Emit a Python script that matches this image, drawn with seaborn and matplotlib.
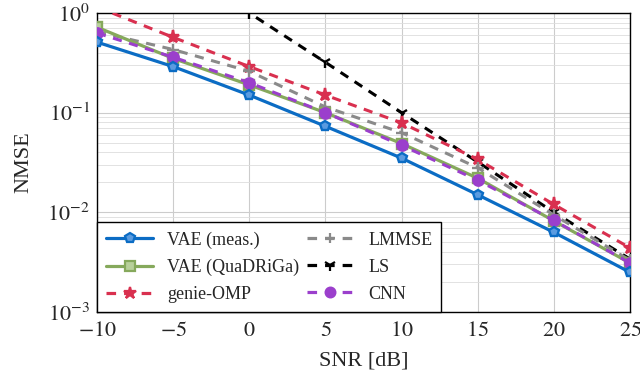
import numpy as np
import pandas as pd
import seaborn as sns
import matplotlib
matplotlib.use("Agg")
import matplotlib.pyplot as plt
from matplotlib.lines import Line2D

snr = [-10, -5, 0, 5, 10, 15, 20, 25]
vae_meas = [0.51, 0.29, 0.15, 0.073, 0.035, 0.015, 0.0063, 0.0025]
vae_quadriga = [0.72, 0.35, 0.19, 0.10, 0.049, 0.022, 0.0082, 0.0031]
genie_omp = [1.15, 0.57, 0.29, 0.15, 0.079, 0.034, 0.012, 0.0044]
lmmse = [0.65, 0.43, 0.26, 0.114, 0.063, 0.028, 0.0094, 0.0033]
ls = [10.0, 3.16, 1.0, 0.32, 0.10, 0.032, 0.010, 0.0034]
cnn = [0.63, 0.36, 0.20, 0.10, 0.047, 0.021, 0.0083, 0.0031]

names = ["VAE (meas.)", "VAE (QuaDRiGa)", "genie-OMP", "LMMSE", "LS", "CNN"]
series = [vae_meas, vae_quadriga, genie_omp, lmmse, ls, cnn]
colors = ["#0b6cc4", "#86a95c", "#d9304f", "#8a8a8a", "#000000", "#9b3fcc"]
markers = ["p", "s", "*", "+", "1", "o"]
facecolors = ["#5a9be0", "#b8d09a", "#d9304f", "#8a8a8a", "#000000", "#9b3fcc"]
styles = ["-", "-", (0, (3, 2.5)), (0, (3, 2.5)), (0, (3, 2.5)), (0, (3, 2.5))]
msizes = [7.5, 7.5, 9.5, 8, 9, 7.5]

df = pd.concat([pd.DataFrame({"SNR": snr, "NMSE": v, "method": n}) for n, v in zip(names, series)])

sns.set_theme(style="whitegrid")
plt.rcParams["font.family"] = ["Liberation Serif", "DejaVu Serif"]
plt.rcParams["mathtext.fontset"] = "stix"

fig = plt.figure(figsize=(6.4, 3.79), dpi=100)
ax = fig.add_axes([97/640, 1-312/379, (630-97)/640, (312-13)/379])

draw_order = [4, 2, 3, 1, 5, 0]
for k, i in enumerate(draw_order):
    sub = df[df["method"] == names[i]]
    sns.lineplot(data=sub, x="SNR", y="NMSE", ax=ax, color=colors[i], marker=markers[i],
                 markersize=msizes[i], markerfacecolor=facecolors[i], markeredgecolor=colors[i],
                 markeredgewidth=1.7, linewidth=2.3 if styles[i] == "-" else 2.2,
                 linestyle=styles[i], label=names[i], legend=False, zorder=3 + k)

ax.set_yscale("log")
ax.set_xlim(-10, 25)
ax.set_ylim(1e-3, 1)
ax.set_xticks([-10, -5, 0, 5, 10, 15, 20, 25])
ax.set_xticklabels(["$-10$", "$-5$", "$0$", "$5$", "$10$", "$15$", "$20$", "$25$"])
ax.set_yticks([1e-3, 1e-2, 1e-1, 1e0])
ax.set_yticklabels([r"$10^{-3}$", r"$10^{-2}$", r"$10^{-1}$", r"$10^{0}$"])
ax.tick_params(axis="x", labelsize=16, length=0, pad=7)
ax.tick_params(axis="y", labelsize=16, length=0, pad=5)
ax.grid(True, which="major", color="#cccccc", linewidth=0.8)
ax.grid(True, which="minor", axis="y", color="#dddddd", linewidth=0.6)
ax.yaxis.set_minor_locator(matplotlib.ticker.LogLocator(base=10, subs=np.arange(2, 10)))
ax.yaxis.set_minor_formatter(matplotlib.ticker.NullFormatter())
ax.set_xlabel("SNR [dB]", fontsize=16, labelpad=8)
ax.set_ylabel("NMSE", fontsize=16, labelpad=10)
for s in ax.spines.values():
    s.set_color("black")
    s.set_linewidth(1.0)

handles = [Line2D([], [], color=colors[i], marker=markers[i], markersize=msizes[i] - 0.5,
                  markerfacecolor=facecolors[i], markeredgecolor=colors[i], markeredgewidth=1.6,
                  linewidth=2.3, linestyle=styles[i]) for i in range(6)]
leg = ax.legend(handles, names, loc="lower left", ncol=2, fontsize=13, frameon=True,
                fancybox=False, edgecolor="black", framealpha=1, borderaxespad=0.0,
                handlelength=2.6, columnspacing=0.4, handletextpad=0.8, labelspacing=0.55,
                borderpad=0.5)
leg.get_frame().set_linewidth(1.0)
leg.set_zorder(20)

fig.savefig("out.png", dpi=100)
